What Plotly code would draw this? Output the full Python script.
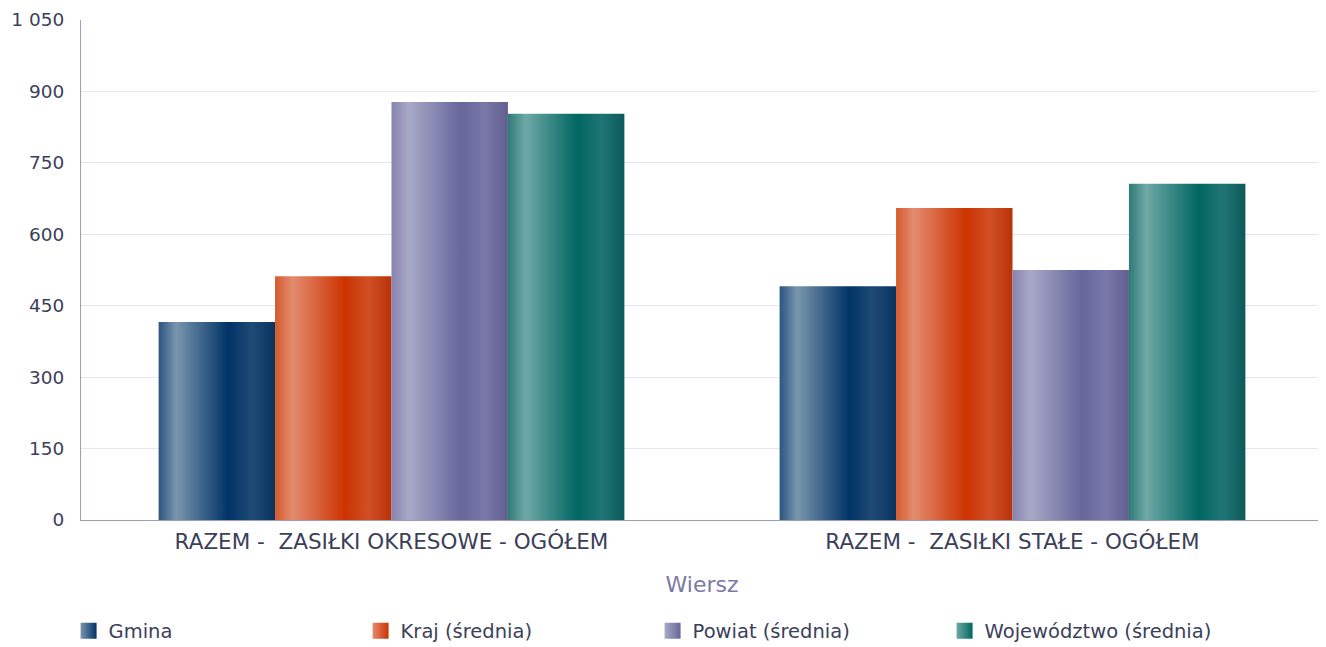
import plotly.graph_objects as go

categories = ["RAZEM - \u00a0ZASIŁKI OKRESOWE - OGÓŁEM", "RAZEM - \u00a0ZASIŁKI STAŁE - OGÓŁEM"]
series_names = ["Gmina", "Kraj (średnia)", "Powiat (średnia)", "Województwo (średnia)"]
gmina = [416, 491]
kraj = [512, 655]
powiat = [878, 525]
wojewodztwo = [853, 706]
y_ticks = [0, 150, 300, 450, 600, 750, 900, 1050]

series_values = [gmina, kraj, powiat, wojewodztwo]
gradients = [
    ["#2a5480", "#7a95ad", "#003366", "#1f4a75", "#0a3460"],
    ["#d45a2c", "#e38c70", "#cc3300", "#d04f25", "#b83208"],
    ["#8683ad", "#a9a9c8", "#66669a", "#7a78a8", "#606090"],
    ["#2f7b78", "#6ea8a6", "#006661", "#207574", "#0a5a58"],
]
stops = [0, 0.15, 0.6, 0.8, 1]

n = len(series_names)
bargap = 0.25
bw = (1 - bargap) / n

fig = go.Figure()
for k, (name, vals, grad) in enumerate(zip(series_names, series_values, gradients)):
    cs = [[s, c] for s, c in zip(stops, grad)]
    for i, v in enumerate(vals):
        x0 = i - (1 - bargap) / 2 + k * bw
        x1 = x0 + bw
        fig.add_trace(go.Scatter(
            x=[x0, x1, x1, x0, x0], y=[0, 0, v, v, 0],
            mode="lines", fill="toself",
            line=dict(width=0, color=grad[2]),
            fillgradient=dict(type="horizontal", colorscale=cs),
            name=name, legendgroup=name, showlegend=False,
            hovertemplate=f"{name}: {v}<extra></extra>",
        ))
    # legend entry
    fig.add_trace(go.Scatter(
        x=[None], y=[None], mode="markers", name=name, legendgroup=name,
        marker=dict(symbol="square", size=20, color=grad[1],
                    gradient=dict(type="horizontal", color=grad[2]),
                    line=dict(width=0)),
        showlegend=True, hoverinfo="skip",
    ))

font = "'DejaVu Sans', sans-serif"
txt = "#3c3f5a"
fig.update_layout(
    width=1318, height=639,
    margin=dict(l=73, r=3, t=12, b=127, autoexpand=False),
    plot_bgcolor="white", paper_bgcolor="white",
    separators=", ",
    font=dict(family=font, size=19, color=txt),
    showlegend=True,
    legend=dict(orientation="h", x=-0.01, xanchor="left", y=-0.222, yanchor="middle",
                entrywidth=247, entrywidthmode="pixels",
                font=dict(size=19.5, color=txt), itemsizing="trace",
                traceorder="normal", tracegroupgap=0),
    xaxis=dict(range=[-0.5, 1.5], tickvals=[0, 1], ticktext=categories,
               tickfont=dict(size=21.5, color=txt),
               showgrid=False, zeroline=False, showline=True, linecolor="#9d9dc4",
               linewidth=1, ticks="", ticklen=0, automargin=False,
               ticklabelstandoff=2,
               title=dict(text="Wiersz", font=dict(size=22, color="#7a7aa6"), standoff=23),
               fixedrange=True),
    yaxis=dict(range=[0, 1050], tickvals=y_ticks, tickformat=",d",
               tickfont=dict(size=18.5, color=txt),
               showgrid=True, gridcolor="#e6e6ef", gridwidth=1,
               zeroline=False, showline=True, linecolor="#9d9dc4", linewidth=1,
               ticks="", automargin=False, ticklabelstandoff=12, fixedrange=True),
)
fig.write_html("out.html")
